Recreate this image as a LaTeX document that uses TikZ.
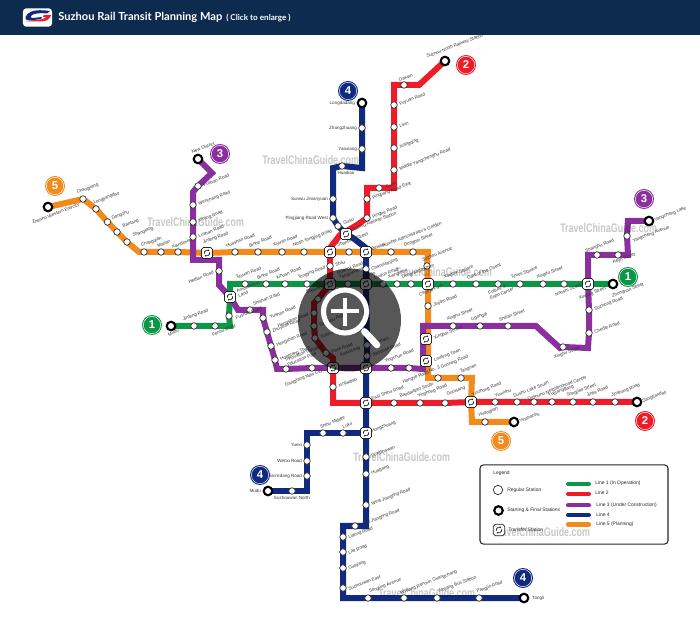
\documentclass[tikz,border=0pt]{standalone}
\usepackage{fontspec}
\setmainfont{Liberation Sans}
\newfontfamily\wmfont[FakeStretch=0.72]{Liberation Sans}
\newfontfamily\titlefont{Lato}
\usetikzlibrary{arrows.meta}
\pgfdeclarelayer{lines}
\pgfsetlayers{lines,main}
\definecolor{hdr}{HTML}{0D2B4E}
\definecolor{cor}{HTML}{F28A1C}
\definecolor{cpu}{HTML}{8B2F9E}
\definecolor{cre}{HTML}{EC1C28}
\definecolor{cna}{HTML}{102A80}
\definecolor{cgr}{HTML}{0E9648}
\def\labangle{21}
\tikzset{
 sta/.style={circle,draw=black!80,fill=white,line width=.55pt,minimum size=4.9pt,inner sep=0pt},
 term/.style={circle,draw=black,fill=white,line width=1.6pt,minimum size=6.4pt,inner sep=0pt},
 xfer/.style={rectangle,rounded corners=1.4pt,draw=black!85,fill=white,line width=.55pt,minimum size=8.3pt,inner sep=0pt,
  path picture={
   \draw[line width=.5pt,-{Stealth[length=1.3pt,width=1.6pt]}] ([shift={(200:2.1pt)}]path picture bounding box.center) arc (200:40:2.1pt);
   \draw[line width=.5pt,-{Stealth[length=1.3pt,width=1.6pt]}] ([shift={(20:2.1pt)}]path picture bounding box.center) arc (20:-140:2.1pt);
  }},
 lab/.style={font=\fontsize{3.4}{3.8}\selectfont,text=black!80,inner sep=0pt,rotate=\labangle,align=left},
 flat/.code={\def\labangle{0}},
 lR/.style={anchor=west,xshift=4pt,yshift=.5pt},
 lU/.style={anchor=west,xshift=-6.8pt,yshift=4.5pt},
 lD/.style={anchor=west,xshift=-6.8pt,yshift=-8pt},
 lL/.style={anchor=east,xshift=-4pt,yshift=-1pt},
 lH/.style={anchor=east,flat,xshift=-3.6pt},
 ln/.style={line width=4.5pt,line join=miter,line cap=butt},
 badge/.style={circle,minimum size=15pt,inner sep=0pt,text=white,font=\bfseries\fontsize{8.5}{8.5}\selectfont,
   path picture={\draw[white,line width=.35pt] (path picture bounding box.center) circle (6.5pt);}},
 wm/.style={font=\wmfont\bfseries\fontsize{9.3}{10}\selectfont,text=black,opacity=.22,text opacity=.22,anchor=west,inner sep=0pt},
 lgt/.style={font=\fontsize{3.7}{4.2}\selectfont,text=black!85,anchor=west,inner sep=0pt},
 lgl/.style={line width=3pt,line cap=round},
}
\newcommand\stn[5][sta]{\node[#1] (#2) at (#3) {}; \node[#4,lab] (#2l) at (#2) {#5};}
\begin{document}
\begin{tikzpicture}[x=.75pt,y=-.75pt]
\useasboundingbox (0,0) rectangle (700,641);
\fill[hdr] (0,0) rectangle (700,35);
% logo
\node[rectangle,rounded corners=2.5pt,fill=white,minimum width=21.8pt,minimum height=13.8pt,inner sep=0pt] (logo) at (37.5,17.5) {};
\fill[cna] (50,11) .. controls (40,9.5) and (31,10) .. (27.5,14) .. controls (24,18) and (25,20.5) .. (30,20.5) -- (41,19) -- (42,17) -- (33,18) .. controls (30,18) and (30,16) .. (33,14.5) .. controls (37,13) and (42,13) .. (47,13.5) -- cycle;
\fill[cre] (25,21.5) -- (41,21.5) .. controls (47,21.5) and (50.5,18) .. (51,15) -- (44,15) -- (43,17) -- (46,17) .. controls (45,19) and (40,19.8) .. (34,20) -- cycle;
\node[font=\titlefont\bfseries\fontsize{8.35}{10}\selectfont,text=white,anchor=west,inner sep=0pt] (title) at (58,17.3) {Suzhou Rail Transit Planning Map};
\node[font=\titlefont\bfseries\fontsize{6.1}{7}\selectfont,text=white,anchor=west,inner sep=0pt] (sub) at (226,18.5) {( Click to enlarge )};
% watermarks
\node[wm] (w1) at (262,160) {TravelChinaGuide.com};
\node[wm] (w2) at (147,222) {TravelChinaGuide.com};
\node[wm] (w3) at (560,228) {TravelChinaGuide.com};
\node[wm] (w4) at (353,457) {TravelChinaGuide.com};
\node[wm] (w5) at (493,532) {TravelChinaGuide.com};
\node[wm] (w6) at (395,272) {TravelChinaGuide.com};
\node[wm] (w7) at (378,593) {TravelChinaGuide.com};
% --- transfers
\stn[xfer]{x1}{207,253}{lU,xshift=3.75pt,yshift=3pt}{Jinfeng Road}
\node[xfer] (x2) at (330,252) {};
\stn[xfer]{x3}{366,252}{lR,yshift=1.5pt}{Beisita}
\stn[xfer]{x4}{346,234}{lR,yshift=2pt}{Suzhou Railway Station}
\stn[xfer]{x5}{230,297}{lR,xshift=1.5pt,yshift=2pt}{Amusement\\Land}
\stn[xfer]{x6}{330,284}{lU,xshift=12pt,yshift=3.5pt}{Guangji Road}
\stn[xfer]{x7}{366,284}{lU,xshift=4pt}{Leqiao}
\stn[xfer]{x8}{428,284}{lD}{Central Park}
\stn[xfer]{x9}{588,284}{lD,yshift=-3pt}{Xinqing Street}
\stn[xfer]{x10}{333,368}{lU,xshift=12pt,yshift=5pt}{Kuai Road}
\node[xfer] (x11) at (366,368) {};
\stn[xfer]{x12}{426,339}{lR,xshift=2pt}{Xinghai School}
\stn[xfer]{x13}{426,361}{lR,xshift=2pt}{Loufeng Town}
\stn[xfer]{x14}{366,403}{lR,yshift=2.5pt}{East Shihu Road}
\stn[xfer]{x15}{471,402}{lU,xshift=7.5pt,yshift=.7pt}{Yinzhong Road}
\stn[xfer]{x16}{366,433}{lR,yshift=.5pt}{Hongzhuang}
% --- line 5
\stn[term]{e1}{48,207}{lD,xshift=-5pt,yshift=-4pt}{Zhenhu Western Entrcity}
\stn{e2}{83,199}{lU,xshift=2pt}{Changjiang}
\stn{e3}{96,209}{lU,xshift=5pt}{Longjiangdao}
\stn{e4}{107.5,222}{lU,xshift=10pt,yshift=-2pt}{Dongzhu}
\stn{e5}{117,232}{lU,xshift=11pt,yshift=-.5pt}{Bantang}
\stn{e6}{127,242}{lU,xshift=11pt}{Shangtang}
\stn{e7}{144,252}{lU,xshift=4.5pt}{Changqian}
\stn{e8}{161,252}{lU,xshift=4pt}{Malian}
\stn{e9}{178,252}{lU,xshift=2pt,yshift=-1pt}{Xiandimiao}
\stn{e10}{235,252}{lU}{Huashan Road}
\stn{e11}{258,252}{lU}{Binhe Road}
\stn{e12}{282,252}{lU}{Xiyuan Road}
\stn{e13}{304,252}{lU,xshift=-1.5pt}{North Tongjing Road}
\stn{e14}{349,252}{lU,xshift=-2pt}{Shantang Street}
\stn{e15}{391,252}{lU}{Humble Administrator's Garden}
\stn{e16}{413,252}{lU}{Dongbei Street}
\stn{e17}{427,266}{lU,xshift=3pt}{Suzhou Avenue}
\stn{e18}{428,306}{lR}{Jinjihu Road}
\stn{e19}{438,378}{lU}{No. 3 Gunning Road}
\stn{e20}{461,378}{lU,xshift=6pt}{Tangnan}
\stn{e21}{485,422}{lU,xshift=2pt}{Huanglian}
\stn[term]{e22}{514,422}{lR}{Yinshanhu}
\coordinate (ec1) at (139,252);
\coordinate (ec2) at (428,252);
\coordinate (ec3) at (428,378);
\coordinate (ec4) at (472,378);
\coordinate (ec5) at (472,422);
% --- line 3
\stn[term]{p1}{198,159}{lU,xshift=2pt,yshift=.7pt}{New District}
\stn{p2}{198,186}{lR}{Fushan Road}
\stn{p3}{193,205}{lR}{Wenchang Road}
\stn{p4}{193,222}{lR}{Xinjing Road}
\stn{p5}{193,237}{lR}{Lushan Road}
\stn{p6}{219,271}{lL}{Hedian Road}
\stn{p7}{250,310}{lU,xshift=9pt}{Shishan Road}
\stn{p8}{263,318}{lR,xshift=1pt}{Yushan Road}
\stn{p9}{267,332}{lR}{Zhuyuan Road}
\stn{p10}{271,346}{lR}{Hengshan Road}
\stn{p11}{275,360}{lR}{Hongtang Town}
\stn{p12}{286,369}{lU,xshift=7pt,yshift=.5pt}{Innovation Industrial\\Education Park}
\stn{p13}{312,368}{lD,xshift=-13.5pt,yshift=-5pt}{Gangjiang New City}
\stn{p14}{391,368}{lU,xshift=2pt}{Yingchun Road}
\stn{p15}{409,368}{lD,xshift=2pt,yshift=-3pt}{Hongye Road}
\stn{p16}{453,326}{lU,xshift=2pt}{Xinghu Street}
\stn{p17}{480,326}{lU}{Ligongdi}
\stn{p18}{508,326}{lU}{Shilian Street}
\stn{p19}{563,347}{lD}{Xinghu Street}
\stn{p20}{589,333}{lR}{Chedle Road}
\stn{p21}{589,310}{lR}{Suzhong Road}
\stn{p22}{597,255}{lU,xshift=-2pt,yshift=-2pt}{Shanghu Road}
\stn{p23}{618,255}{lD,xshift=3pt,yshift=2pt}{Kejin Street}
\stn{p24}{627,236}{lD,xshift=11pt,yshift=4pt}{Yangcheng Avenue}
\stn[term]{p25}{649,221}{lR}{Yangcheng Lake}
\coordinate (pc1) at (212,173);
\coordinate (pc2) at (193,192);
\coordinate (pc3) at (193,260);
\coordinate (pc4) at (219,260);
\coordinate (pc5) at (219,285);
\coordinate (pc6) at (238,310);
\coordinate (pc7) at (263,310);
\coordinate (pc8) at (277,369);
\coordinate (pc9) at (423,369);
\coordinate (pc10) at (423,326);
\coordinate (pc11) at (536,326);
\coordinate (pc12) at (560,348);
\coordinate (pc13) at (588,348);
\coordinate (pc14) at (588,255);
\coordinate (pc15) at (628,255);
\coordinate (pc16) at (628,221);
% --- line 1
\stn[term]{g1}{171,326}{lD,xshift=4.5pt,yshift=1.5pt}{Mudu}
\stn{g2}{194,326}{lU,xshift=-1.5pt}{Jinfeng Road}
\stn{g3}{215,326}{lD,xshift=4.5pt,yshift=1.5pt}{Fenhu Road}
\stn{g4}{229,316}{lR,yshift=-2pt,xshift=1pt}{Fushan Road}
\stn{g5}{245,284}{lU}{Tayuan Road}
\stn{g6}{266,284}{lU}{Binhe Road}
\stn{g7}{285,284}{lU}{Xihuan Road}
\stn{g8}{307,284}{lU}{Tongjing Road}
\stn{g9}{348,284}{lU}{Yangyuxiang}
\stn{g10}{383,284}{lU}{Lindun Road}
\stn{g11}{397,284}{lU}{Xiangmen}
\stn{g12}{411,284}{lU}{Dongfangzhimen}
\stn{g13}{453,284}{lU}{Xinghai Square}
\stn{g14}{476,284}{lU}{Gate of the Orient}
\stn{g15}{498,284}{lD,yshift=-1pt}{Culture \&\\Expo Center}
\stn{g16}{520,284}{lU}{Times Square}
\stn{g17}{543,284}{lU,xshift=2pt}{Xingdu Street}
\stn{g18}{564,284}{lD}{Nanshi Street}
\stn[term]{g19}{613,284}{lD,xshift=6pt,yshift=-1.5pt}{Zhongnan Street}
\coordinate (gc1) at (230,326);
\coordinate (gc2) at (230,284);
% --- line 2
\stn[term]{r1}{445,61}{lU,xshift=-7pt,yshift=-1.5pt}{Suzhou North Railway Station}
\stn{r2}{404,85}{lU,xshift=3pt,yshift=-1pt}{Dawan}
\stn{r3}{394,105}{lR}{Fuyuan Road}
\stn{r4}{394,127}{lR}{Lixin}
\stn{r5}{394,148}{lR}{Xiangqing}
\stn{r6}{394,170}{lR}{Middle Yangchenghu Road}
\stn{r7}{379,188}{lR,xshift=1pt}{Cuilin}
\stn{r8}{367,199}{lR}{Pingjiang Road East}
\stn{r9}{367,218}{lR}{Pinghe Road}
\stn{r10}{330,266}{lR}{Shilu}
\stn{r11}{318,299}{lU,xshift=-2pt}{Sanxiang Road}
\stn{r12}{314,313}{lL}{Hengshan Road}
\stn{r13}{314,326}{lR}{Dongwu Road}
\stn{r14}{315,338}{lR}{Xuhu Road}
\stn{r15}{326,353}{lR}{Panli Road}
\stn{r16}{333,387}{lR}{Xinjiaqiao}
\stn{r17}{394,403}{lU,xshift=11pt}{Baodaiqiao South}
\stn{r18}{420,403}{lU,xshift=5pt}{Yinghong Road}
\stn{r19}{445,403}{lU,xshift=8pt,yshift=1.5pt}{Guoxiang}
\stn{r20}{495,402}{lU,xshift=6.5pt}{Yinxiuhu}
\stn{r21}{517,402}{lU,xshift=4pt}{Dushu Lake South}
\stn{r22}{534,402}{lU,xshift=2pt,yshift=-3pt}{Dushuhu Neighborhood Center}
\stn{r23}{552,402}{lU,xshift=4pt}{Yuetanggang}
\stn{r24}{573,402}{lU,xshift=2pt}{Songjiao Street}
\stn{r25}{593,402}{lU,xshift=2pt}{Jinjia Road}
\stn{r26}{615,402}{lU,xshift=4pt}{Jinshang Road}
\stn[term]{r27}{637,402}{lR}{Sangtiandao}
\coordinate (rc1) at (419,85);
\coordinate (rc2) at (394,85);
\coordinate (rc3) at (394,188);
\coordinate (rc4) at (367,188);
\coordinate (rc5) at (357,225);
\coordinate (rc6) at (340,235);
\coordinate (rc7) at (330,248);
\coordinate (rc8) at (314,303);
\coordinate (rc9) at (314,337);
\coordinate (rc10) at (333,358);
\coordinate (rc11) at (333,403);
% --- line 4
\stn[term]{n1}{362,103}{lH,xshift=-1.5pt}{Longdadang}
\stn{n2}{362,128}{lH}{Zhangzhuang}
\stn{n3}{362,149}{lH}{Yaoxiang}
\stn{n4}{342,166}{anchor=north,flat,yshift=-3.6pt,xshift=3pt}{Huadiao}
\stn{n5}{333,199}{lH}{Sunwu Jinianyuan}
\stn{n6}{333,218}{lH}{Pingjiang Road West}
\stn{n7}{338,226}{lR,yshift=1.5pt}{Gusu}
\stn{n8}{366,269}{lR,yshift=-1pt}{Chaoyuanjing}
\stn{n9}{367,345}{lR}{Nanmen}
\stn{n10}{367,356}{lR}{Sanyuan Road}
\stn{n11}{366,457}{lR}{Dingshawan}
\stn{n12}{366,474}{lR}{Huagang}
\stn{n13}{366,505}{lR}{West Jiangling Road}
\stn{n14}{355,526}{lR}{West Jiangling Road}
\stn{n15}{343,537}{lR,yshift=-1pt}{Lidong Road}
\stn{n16}{343,552}{lR,yshift=-1pt}{Lite Road}
\stn{n17}{343,568}{lR,yshift=-1pt}{Guajiang}
\stn{n18}{343,588}{lR,yshift=-1pt}{Suzhouwan East}
\stn{n19}{368,598}{lU,xshift=7.5pt}{Songling Avenue}
\stn{n20}{404,598}{lU,xshift=4pt,yshift=-1pt}{Wujiang Renmin Guangchang}
\stn{n21}{437,598}{lU,xshift=7.5pt}{Wujiang Bus Station}
\stn{n22}{479,598}{lU,xshift=5pt}{Pangjin Road}
\stn[term]{n23}{524,598}{anchor=west,flat,xshift=6pt}{Tongli}
\stn{n24}{343,433}{lU,xshift=6.5pt}{Luku}
\stn{n25}{323,433}{lU,xshift=4.5pt}{Shihu Middle}
\stn{n26}{307,445}{lH}{Yuexi}
\stn{n27}{307,461}{lH}{Wenxi Road}
\stn{n28}{307,476}{lH}{Tian'edang Road}
\stn{n29}{292,491}{anchor=north,flat,yshift=-3.6pt}{Suzhouwan North}
\stn[term]{n30}{268,491}{lH,xshift=-1.5pt}{Mudu}
\coordinate (nc1) at (362,168);
\coordinate (nc2) at (333,168);
\coordinate (nc3) at (353,238);
\coordinate (nc4) at (366,248);
\coordinate (nc5) at (366,526);
\coordinate (nc6) at (343,526);
\coordinate (nc7) at (343,598);
\coordinate (nc8) at (307,433);
\coordinate (nc9) at (307,491);
% --- lines
\begin{pgfonlayer}{lines}
\draw[ln,cgr] (g1.center) -- (g2.center) -- (g3.center) -- (gc1) -- (g4.center) -- (x5.center) -- (gc2) -- (g5.center) -- (g6.center) -- (g7.center) -- (g8.center) -- (x6.center) -- (g9.center) -- (x7.center) -- (g10.center) -- (g11.center) -- (g12.center) -- (x8.center) -- (g13.center) -- (g14.center) -- (g15.center) -- (g16.center) -- (g17.center) -- (g18.center) -- (x9.center) -- (g19.center);
\draw[ln,cor] (e1.center) -- (e2.center) -- (e3.center) -- (e4.center) -- (e5.center) -- (e6.center) -- (ec1) -- (e7.center) -- (e8.center) -- (e9.center) -- (x1.center) -- (e10.center) -- (e11.center) -- (e12.center) -- (e13.center) -- (x2.center) -- (e14.center) -- (x3.center) -- (e15.center) -- (e16.center) -- (ec2) -- (e17.center) -- (x8.center) -- (e18.center) -- (ec3) -- (e19.center) -- (e20.center) -- (ec4) -- (x15.center) -- (ec5) -- (e21.center) -- (e22.center);
\draw[ln,cna] (n1.center) -- (n2.center) -- (n3.center) -- (nc1) -- (n4.center) -- (nc2) -- (n5.center) -- (n6.center) -- (n7.center) -- (x4.center) -- (nc3) -- (nc4) -- (x3.center) -- (n8.center) -- (x7.center) -- (n9.center) -- (n10.center) -- (x11.center) -- (x14.center) -- (x16.center) -- (n11.center) -- (n12.center) -- (n13.center) -- (nc5) -- (n14.center) -- (nc6) -- (n15.center) -- (n16.center) -- (n17.center) -- (n18.center) -- (nc7) -- (n19.center) -- (n20.center) -- (n21.center) -- (n22.center) -- (n23.center);
\draw[ln,cna] (x16.center) -- (n24.center) -- (n25.center) -- (nc8) -- (n26.center) -- (n27.center) -- (n28.center) -- (nc9) -- (n29.center) -- (n30.center);
\draw[ln,cre] (r1.center) -- (rc1) -- (r2.center) -- (rc2) -- (r3.center) -- (r4.center) -- (r5.center) -- (r6.center) -- (rc3) -- (r7.center) -- (rc4) -- (r8.center) -- (r9.center) -- (rc5) -- (rc6) -- (rc7) -- (x2.center) -- (r10.center) -- (x6.center) -- (r11.center) -- (rc8) -- (r12.center) -- (r13.center) -- (r14.center) -- (rc9) -- (r15.center) -- (rc10) -- (x10.center) -- (r16.center) -- (rc11) -- (x14.center) -- (r17.center) -- (r18.center) -- (r19.center) -- (x15.center) -- (r20.center) -- (r21.center) -- (r22.center) -- (r23.center) -- (r24.center) -- (r25.center) -- (r26.center) -- (r27.center);
\draw[ln,cpu] (p1.center) -- (pc1) -- (p2.center) -- (pc2) -- (p3.center) -- (p4.center) -- (p5.center) -- (pc3) -- (pc4) -- (p6.center) -- (pc5) -- (x5.center) -- (pc6) -- (p7.center) -- (pc7) -- (p8.center) -- (p9.center) -- (p10.center) -- (p11.center) -- (pc8) -- (p12.center) -- (p13.center) -- (x10.center) -- (x11.center) -- (p14.center) -- (p15.center) -- (pc9) -- (pc10) -- (p16.center) -- (p17.center) -- (p18.center) -- (pc11) -- (pc12) -- (p19.center) -- (pc13) -- (p20.center) -- (p21.center) -- (x9.center) -- (pc14) -- (p22.center) -- (p23.center) -- (pc15) -- (p24.center) -- (pc16) -- (p25.center);
\end{pgfonlayer}
% --- badges
\node[badge,fill=cor] (b1) at (55,186) {5};
\node[badge,fill=cpu] (b2) at (220,154) {3};
\node[badge,fill=cna] (b3) at (348,91) {4};
\node[badge,fill=cre] (b4) at (466,65) {2};
\node[badge,fill=cpu] (b5) at (644,199) {3};
\node[badge,fill=cgr] (b6) at (628,277) {1};
\node[badge,fill=cgr] (b7) at (152,325) {1};
\node[badge,fill=cor] (b8) at (501,441) {5};
\node[badge,fill=cre] (b9) at (645,421) {2};
\node[badge,fill=cna] (b10) at (260,475) {4};
\node[badge,fill=cna] (b11) at (523,578) {4};
% --- legend
\node[rectangle,draw=black!85,line width=.8pt,rounded corners=2.5pt,minimum width=141pt,minimum height=59.3pt,inner sep=0pt] (leg) at (574,504.5) {};
\node[lgt] (t0) at (493,473) {Legend};
\node[sta,minimum size=7pt] (k1) at (498,490) {};
\node[lgt] (t1) at (507,490) {Regular Station};
\node[term] (k2) at (498.5,510.5) {};
\node[lgt] (t2) at (507,510.5) {Starting \& Final Stations};
\node[xfer,minimum size=8.5pt] (k3) at (499,530) {};
\node[lgt] (t3) at (508,530) {Transfer Station};
\draw[lgl,cgr] (568,484) -- (589,484);
\node[lgt] (t4) at (595,483.5) {Line 1 (In Operation)};
\draw[lgl,cre] (568,494) -- (589,494);
\node[lgt] (t5) at (595,493) {Line 2};
\draw[lgl,cpu] (568,505.5) -- (589,505.5);
\node[lgt] (t6) at (596,505) {Line 3 (Under Construction)};
\draw[lgl,cna] (568,515) -- (589,515);
\node[lgt] (t7) at (596,514.5) {Line 4};
\draw[lgl,cor] (568,524.5) -- (589,524.5);
\node[lgt] (t8) at (596,524) {Line 5 (Planning)};
% --- magnifier
\fill[black,opacity=.66] (349.5,320) circle (51.5);
\draw[white,line width=3.8pt] (345,311.5) circle (21.5);
\draw[white,line width=3pt] (331,311.5) -- (359,311.5);
\draw[white,line width=3pt] (345,298) -- (345,326);
\draw[white,line width=5pt,line cap=round] (364.5,331.5) -- (377,345);
\end{tikzpicture}
\end{document}
